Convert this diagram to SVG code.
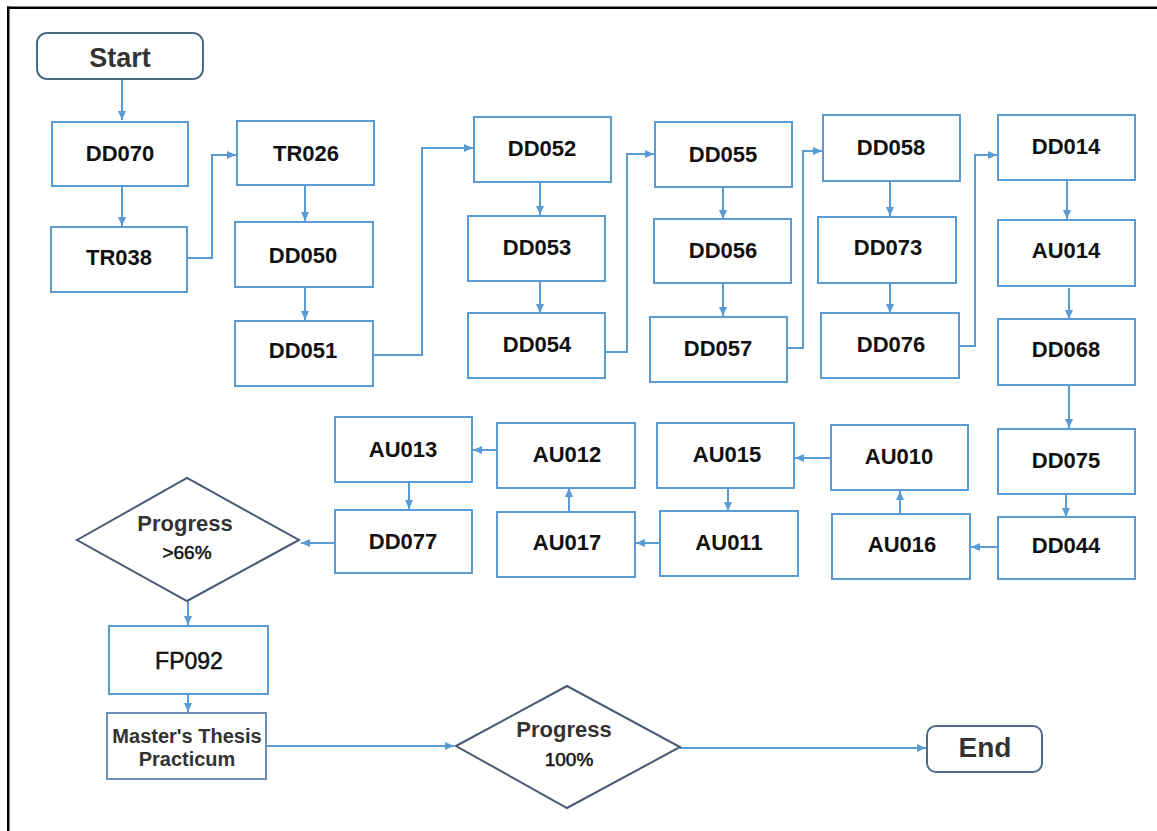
<svg xmlns="http://www.w3.org/2000/svg" width="1157" height="831" viewBox="0 0 1157 831">
<style>
.box{fill:#fff;stroke:#5b9bd5;stroke-width:2}
.term{fill:#fff;stroke:#4f6a88;stroke-width:2}
.dia{fill:#fff;stroke:#4a5870;stroke-width:2}
.t{font-family:"Liberation Sans",Arial,sans-serif;font-size:22px;font-weight:bold;fill:#111;text-anchor:middle}
.tn{font-weight:normal}
.semi{stroke:#111;stroke-width:0.5}
.c{fill:none;stroke:#5b9bd5;stroke-width:2}
</style>
<defs>
<marker id="ah" markerUnits="userSpaceOnUse" markerWidth="9" markerHeight="8" refX="9" refY="4" orient="auto">
<path d="M0,0 L9,4 L0,8 z" fill="#5b9bd5"/>
</marker>
</defs>
<rect width="1157" height="831" fill="#fff"/>
<rect x="7" y="6.5" width="1150" height="2.5" fill="#000"/>
<rect x="7" y="6.5" width="2.5" height="825" fill="#000"/>

<g id="connectors">
<path class="c" d="M122,80 V120" marker-end="url(#ah)"/>
<path class="c" d="M122,187 V226" marker-end="url(#ah)"/>
<path class="c" d="M187,258 H212 V155 H236" marker-end="url(#ah)"/>
<path class="c" d="M305,185 V221" marker-end="url(#ah)"/>
<path class="c" d="M305,287 V320" marker-end="url(#ah)"/>
<path class="c" d="M373,355 H422 V148 H473" marker-end="url(#ah)"/>
<path class="c" d="M540,182 V215" marker-end="url(#ah)"/>
<path class="c" d="M540,281 V313" marker-end="url(#ah)"/>
<path class="c" d="M605,352 H627 V154 H654" marker-end="url(#ah)"/>
<path class="c" d="M723,187 V219" marker-end="url(#ah)"/>
<path class="c" d="M723,283 V316" marker-end="url(#ah)"/>
<path class="c" d="M787,348 H803 V151 H822" marker-end="url(#ah)"/>
<path class="c" d="M890,181 V216" marker-end="url(#ah)"/>
<path class="c" d="M890,283 V313" marker-end="url(#ah)"/>
<path class="c" d="M959,346 H975 V155 H997" marker-end="url(#ah)"/>
<path class="c" d="M1067,180 V219" marker-end="url(#ah)"/>
<path class="c" d="M1069,288 V319" marker-end="url(#ah)"/>
<path class="c" d="M1069,385 V428" marker-end="url(#ah)"/>
<path class="c" d="M1066,494 V517" marker-end="url(#ah)"/>
<path class="c" d="M998,547 H971" marker-end="url(#ah)"/>
<path class="c" d="M900,514 V491" marker-end="url(#ah)"/>
<path class="c" d="M831,458 H795" marker-end="url(#ah)"/>
<path class="c" d="M728,488 V511" marker-end="url(#ah)"/>
<path class="c" d="M660,543 H636" marker-end="url(#ah)"/>
<path class="c" d="M569,512 V488" marker-end="url(#ah)"/>
<path class="c" d="M497,450 H473" marker-end="url(#ah)"/>
<path class="c" d="M409,482 V509" marker-end="url(#ah)"/>
<path class="c" d="M335,543 H301" marker-end="url(#ah)"/>
<path class="c" d="M188,600 V625" marker-end="url(#ah)"/>
<path class="c" d="M188,694 V712" marker-end="url(#ah)"/>
<path class="c" d="M266,746 H454" marker-end="url(#ah)"/>
<path class="c" d="M680,748 H926" marker-end="url(#ah)"/>
</g>

<g id="start"><rect class="term" x="37" y="33" width="166" height="46" rx="10"/><text class="t" x="120" y="67" style="font-size:27px;fill:#333">Start</text></g>
<g id="DD070"><rect class="box" x="52" y="122" width="136" height="64"/><text class="t" x="120" y="161">DD070</text></g>
<g id="TR038"><rect class="box" x="51" y="227" width="136" height="65"/><text class="t" x="119" y="265">TR038</text></g>
<g id="TR026"><rect class="box" x="237" y="121" width="137" height="64"/><text class="t" x="306" y="161">TR026</text></g>
<g id="DD050"><rect class="box" x="235" y="222" width="138" height="65"/><text class="t" x="303" y="263">DD050</text></g>
<g id="DD051"><rect class="box" x="235" y="321" width="138" height="65"/><text class="t" x="303" y="358">DD051</text></g>
<g id="DD052"><rect class="box" x="474" y="117" width="137" height="65"/><text class="t" x="542" y="156">DD052</text></g>
<g id="DD053"><rect class="box" x="468" y="216" width="137" height="65"/><text class="t" x="537" y="255">DD053</text></g>
<g id="DD054"><rect class="box" x="468" y="313" width="137" height="65"/><text class="t" x="537" y="352">DD054</text></g>
<g id="DD055"><rect class="box" x="655" y="122" width="137" height="65"/><text class="t" x="723" y="162">DD055</text></g>
<g id="DD056"><rect class="box" x="654" y="219" width="137" height="64"/><text class="t" x="723" y="258">DD056</text></g>
<g id="DD057"><rect class="box" x="650" y="317" width="137" height="65"/><text class="t" x="718" y="356">DD057</text></g>
<g id="DD058"><rect class="box" x="823" y="115" width="137" height="66"/><text class="t" x="891" y="155">DD058</text></g>
<g id="DD073"><rect class="box" x="818" y="217" width="138" height="66"/><text class="t" x="888" y="255">DD073</text></g>
<g id="DD076"><rect class="box" x="821" y="313" width="138" height="65"/><text class="t" x="891" y="352">DD076</text></g>
<g id="DD014"><rect class="box" x="998" y="115" width="137" height="65"/><text class="t" x="1066" y="154">DD014</text></g>
<g id="AU014"><rect class="box" x="998" y="220" width="137" height="66"/><text class="t" x="1066" y="258">AU014</text></g>
<g id="DD068"><rect class="box" x="998" y="319" width="137" height="66"/><text class="t" x="1066" y="357">DD068</text></g>
<g id="DD075"><rect class="box" x="998" y="429" width="137" height="65"/><text class="t" x="1066" y="468">DD075</text></g>
<g id="DD044"><rect class="box" x="998" y="517" width="137" height="62"/><text class="t" x="1066" y="553">DD044</text></g>
<g id="AU016"><rect class="box" x="832" y="514" width="138" height="65"/><text class="t" x="902" y="552">AU016</text></g>
<g id="AU010"><rect class="box" x="831" y="425" width="137" height="65"/><text class="t" x="899" y="464">AU010</text></g>
<g id="AU015"><rect class="box" x="657" y="423" width="137" height="65"/><text class="t" x="727" y="462">AU015</text></g>
<g id="AU011"><rect class="box" x="660" y="511" width="138" height="65"/><text class="t" x="729" y="550">AU011</text></g>
<g id="AU017"><rect class="box" x="497" y="512" width="138" height="65"/><text class="t" x="567" y="550">AU017</text></g>
<g id="AU012"><rect class="box" x="497" y="423" width="138" height="65"/><text class="t" x="567" y="462">AU012</text></g>
<g id="AU013"><rect class="box" x="335" y="417" width="137" height="65"/><text class="t" x="403" y="457">AU013</text></g>
<g id="DD077"><rect class="box" x="335" y="510" width="137" height="63"/><text class="t" x="403" y="549">DD077</text></g>
<g id="progress66"><path class="dia" d="M77,540 L187,478 L299,540 L187,601 Z"/><text class="t" x="185" y="531" style="fill:#333">Progress</text><text class="t tn semi" x="187" y="559" style="font-size:19px">&gt;66%</text></g>
<g id="FP092"><rect class="box" x="109" y="626" width="159" height="68"/><text class="t tn semi" x="189" y="669" style="font-size:23px">FP092</text></g>
<g id="thesis"><rect class="box" x="107" y="713" width="159" height="66" style="stroke:#6a8fb8"/><text class="t" x="187" y="743" style="font-size:20px;fill:#333">Master's Thesis</text><text class="t" x="187" y="766" style="font-size:20px;fill:#333">Practicum</text></g>
<g id="progress100"><path class="dia" d="M456,746 L567,686 L680,747 L567,808 Z"/><text class="t" x="564" y="737" style="fill:#333">Progress</text><text class="t tn semi" x="569" y="766" style="font-size:19px">100%</text></g>
<g id="end"><rect class="term" x="927" y="726" width="115" height="46" rx="9"/><text class="t" x="985" y="757" style="font-size:28px;fill:#333">End</text></g>
</svg>
